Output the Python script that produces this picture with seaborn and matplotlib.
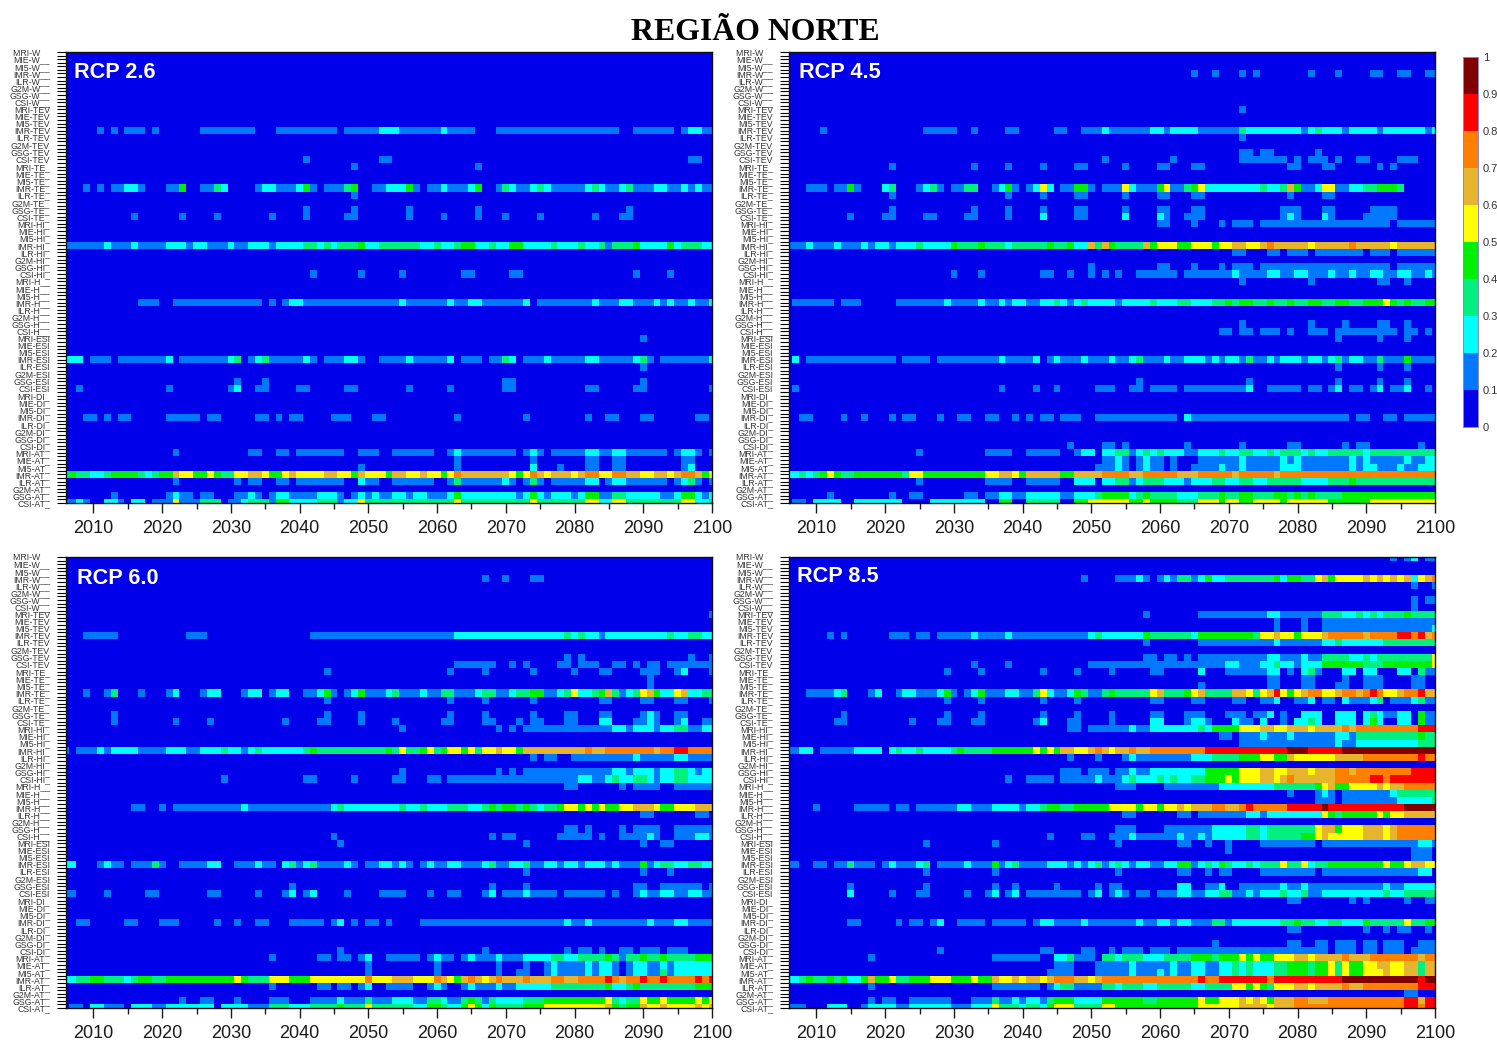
import matplotlib
matplotlib.use('Agg')
import matplotlib.pyplot as plt
from matplotlib.colors import ListedColormap
import numpy as np
import pandas as pd
import seaborn as sns

# Eixos: modelos x indices, anos de 2006 a 2100
modelos = ['MRI', 'MIE', 'MI5', 'IMR', 'ILR', 'G2M', 'GSG', 'CSI']
indices = ['W', 'TEV', 'TE', 'HI', 'H', 'ESI', 'DI', 'AT']
sufixo = {'W': '__', 'TEV': '', 'TE': '_', 'HI': '_', 'H': '__', 'ESI': '', 'DI': '_', 'AT': '_'}
anos = list(range(2006, 2101))
classes = [0.05, 0.15, 0.25, 0.35, 0.45, 0.55, 0.65, 0.75, 0.85, 0.95]
cores = ['#0000EA', '#0078FF', '#00FFFF', '#00F080', '#00F000',
         '#FFFF00', '#E6B42D', '#FF8000', '#FF0000', '#800000']
ticks_cbar = [0, 0.1, 0.2, 0.3, 0.4, 0.5, 0.6, 0.7, 0.8, 0.9, 1]
labels_cbar = ['0', '0.1', '0.2', '0.3', '0.4', '0.5', '0.6', '0.7', '0.8', '0.9', '1']

# Valores: "ano" ou "ano-ano:classe" (ano-2000, classe 1 se omitida)
rcp26 = {
    'IMR-TEV': '11 13 15-17 19 26-33 37-45 47-51 52-54:2 55-60 61:2 62-65 69-86 89-94 96 97-98:2 99-100',
    'CSI-TEV': '41 52-53 97-98',
    'MRI-TE': '48 66',
    'IMR-TE': '9 11 13-14 15-16:2 17 21-22 23:4 26-27 28:3 29:2 34 35-36:2 37-39 40:2 41:4 42 44-46 47:3 48:4 '
              '51-52 53-55:2 56:4 57 59-60 61:2 62-64 65:2 66:4 69 70:3 71:2 72-73 74:2 75:3 76:2 77-81 82:2 83:3 '
              '84:2 85-86 87:2 88:3 89-91 92-93:2 94-95 96:2 97 98:2 99-100',
    'ILR-TE': '48',
    'GSG-TE': '41 48 56 66 88',
    'CSI-TE': '16 23 28 36 41 47-48 56 61 66 70 75 83 87-88',
    'IMR-HI': '6-11 12:2 13-15 16:2 17-20 21-23:2 24 25-26:2 27-29 30:2 31-32 33-35:2 36 37-40:2 41-42:3 43:2 44:3 '
              '45:2 46-48:3 49:4 50-51:2 52-57:3 58-59:2 60:3 61-62:2 63:3 64-65:4 66-67:2 68:3 69-70:2 71-72:4 '
              '73-76:2 77:3 78-80:2 81:3 82-83:2 84:3 85 86:3 87-88:3 89:4 90-93:2 94:4 95:2 96-98:3 99-100:2',
    'CSI-HI': '42 49 55 64-65 71-72 89 94',
    'IMR-H': '17-19 22-34 36 38 39-40:2 41-54 55:2 56-61 62:2 63-64 65-66:2 67-72 73:2 75-82 83:2 84-86 87-88:2 '
             '89-91 92:2 93 94:2 95-96 97:2 98-99 100:2',
    'MRI-ESI': '90',
    'IMR-ESI': '6-8:2 10-12 14-20 21:2 23-29 30:2 31:3 33 34:2 35:3 36-40 41:2 42 44-46 47-48:2 49 52-55 56:2 57-61 '
               '62:2 64-66 68-69 70:3 71:2 73-75 76:2 77-81 82-83:2 84-88 89:2 90:3 91 93-99 100:2',
    'ILR-ESI': '90',
    'GSG-ESI': '31 35 70-71 90',
    'CSI-ESI': '8 21 30 31:2 34-35 40-41 47-48 56 62 70-71 82-83 89-90 100',
    'IMR-DI': '9-10 12 14-15 21-25 27-28 34-35 37 39-40 45-47 51-52 63 73 82 85-86 90-91 98-99',
    'MRI-AT': '22 33-34 37-38 40-46 49-51 54-59 62 63:2 64-71 73 74:2 75 77-81 82-83:2 84-85 86-87:2 88-93 95 '
              '96-97:2 98 100',
    'MIE-AT': '63 74 82-83 86-87 96-97',
    'MI5-AT': '49 63 74:2 78 82-83 86-87 96 97:2',
    'IMR-AT': '6:3 7:4 8-9:3 10-11:2 12:3 13-16:4 17:3 18:2 19:3 20-21:4 22:6 23-24:5 25-26:4 27:5 28:4 29-30:3 '
              '31-32:5 33-34:6 35:5 36-37:4 38:5 39:6 40-43:5 44-45:6 46-47:5 48:4 49:6 50-52:5 53:4 54-55:6 '
              '56-57:5 58:6 59-60:5 61:4 62:5 63:7 64-70:6 71:5 72:4 73:5 74:7 75:6 76:5 77-79:6 80:5 81:6 82-83:7 '
              '84-85:5 86-87:7 88-89:6 90-91:5 92-93:6 94:5 95:6 96-97:7 98:6 99:4 100:5',
    'ILR-AT': '22 31 33-34 37-38 40-46 49:2 50-51 54-59 62 63:3 64-69 70:2 71 73 74:3 75 77-81 82-83:2 85 86-87:2 '
              '88-93 95 96:2 97:3 98 100',
    'GSG-AT': '13 21 22:2 23-24 26-27 31-32 33:2 34 36 37-38:2 39-42 43-45:2 46 48 49:2 50 51:2 52-53 54-55:2 56 '
              '57-58:2 59-61 62:2 63:4 64-71:2 72 73:2 74:4 75:2 76 77-79:2 80 81:2 82-83:4 84-85 86-87:3 88-92:2 '
              '93-94 95:2 96-97:4 98:2 99 100:2',
    'CSI-AT': '6-7 8:2 9 12-13:2 14 16-17:2 19-21 22:5 23-25 26-28:3 30-31 32:2 33-35:3 36 37-38:4 39-42:2 43-45:3 '
              '46 47-48:2 49:5 50-62:3 63:5 64-73:3 74:5 75-81:3 82-83:5 84-85:2 86-87:5 88-95:3 96-97:5 98-99:2 100:3',
}

rcp45 = {
    'IMR-W': '65 68 72 74 82 86 91-92 95-96 99-100',
    'MRI-TEV': '72',
    'IMR-TEV': '11 26-30 33 38-39 45-46 49-51 52:2 53-58 59-60:2 61 62-65:2 66-71 72:3 73-80:2 81 82:2 83:3 84-86:2 '
               '87 88-91:2 92 93-98:2 99 100:2',
    'ILR-TEV': '72',
    'GSG-TEV': '72-73 75-76 83',
    'CSI-TEV': '52 62 72-78 80 82-84 86 89-90 95-97',
    'MRI-TE': '21 33 38 43 48-49 55 60-61 65-66 79-80 84-85 92 94',
    'IMR-TE': '9-11 13-14 15:4 16 20:2 21:3 25 26:2 27:3 28 30-31 32-33:3 36 37:2 38:4 39 41 42:2 43:5 44:2 46-47 '
              '48-49:4 50 52-54 55:5 56:2 57-59 60:4 61:5 62-63 64:3 65:4 66:5 67-74:2 75:3 76-77:2 78:3 79:6 80:4 '
              '81-82 83:2 84-85:5 86-87 88-89:2 90-91:3 92-94:4 95:3',
    'ILR-TE': '21 38 43 48-49 55 60-61 65-66 79 84-85',
    'GSG-TE': '21 33 38 43 48-49 55 60-61 65-66 78-80 84-85 91-94',
    'CSI-TE': '15 20-21 26-27 32-33 38 43:2 48-49 55:2 60:2 61 64-66 78 79:2 80 84:2 85 90-94',
    'MRI-HI': '60-61 65 69 71-73 75-93 95-100',
    'IMR-HI': '6-8 9:2 10-12 13:2 14-16 17:2 18 19-20:2 21 22-24:2 25:3 26-29:2 30:4 31-33:3 34:4 35-37:3 38:2 39-43:3 '
              '44:4 45-46:3 47:4 48-49:2 50:6 51:3 52:6 53:4 54:3 55-57:3 58:6 59:4 60-62:5 63-64:4 65-67:5 68:4 '
              '69-70:5 71-72:6 73-74:5 75:6 76:7 77-81:6 82:5 83-87:6 88:7 89-93:6 94:5 95-100:6',
    'ILR-HI': '71-72 76-77 79-81 83-89 91-93 95-100',
    'GSG-HI': '50 60-61 65 69 71-73 75-93 95-100',
    'CSI-HI': '30 34 43-44 47 50 52 54 57-62 64-70 71:2 72-75 76-77:2 78-79 80-81:2 82-84 85:2 86-87 88:2 89-90 '
              '91-92:2 93-94 95-96:2 97-98 99:2 100',
    'MRI-H': '72 82 92-93 96',
    'IMR-H': '7-12 14-16 22-28 29:2 30-33 34:2 35-36 37:2 38 39-40:2 41-42 43-44:2 45:3 46:2 47 48:2 49:3 50-53:2 54 '
             '55-58:2 59:3 60-62:2 63-64:3 65-67:2 68-69:3 70:4 71:3 72-73:4 74-75:3 76:4 77-78:3 79:4 80-81:3 '
             '82-83:4 84-85:3 86-87:4 88-89:3 90-92:4 93:5 94:4 95:3 96:4 97-98:3 99-100:4',
    'GSG-H': '72 82 87 92-93 96',
    'CSI-H': '69-70 72-73 75-77 79 82-84 86-94 96-97 99',
    'MRI-ESI': '86 92 96',
    'IMR-ESI': '7:2 9-21 23-26 28-36 37:2 38-41 42:2 44 45:2 46-48 49:2 50-52 53:2 54-55 56:2 57:3 58-60 61:2 62-63 '
               '64-66:2 67 68:2 69 70-71:2 72 73:3 74-75 76:2 77 78-80:2 81 82-83:2 84 85:2 86:3 87 88-89:2 90-91 92:3 '
               '93-95 96:4 97-100',
    'ILR-ESI': '86 92 96',
    'GSG-ESI': '57 73 86 92 96',
    'CSI-ESI': '7 37 42 45 51-53 56-57 59-62 64-72 73:2 76-80 82-83 85 86:2 88-89 91 92:2 94-95 96:2 99',
    'IMR-DI': '8-9 14 17 21 23-24 28 31-32 35-36 39 41 43-44 46-48 51-62 64:2 65-87 89-90 93-94 96-100',
    'CSI-DI': '47 52-53 55 64 72 79-80 87 89-90 98',
    'MRI-AT': '25 35-38 41-45 48 49-50:2 52-53:2 54-55:3 56 57:2 58:3 59:2 60:3 61-63:2 64-65 66-68:2 69:3 70-71:2 '
              '72-73:3 74-75:2 76:3 77:2 78-80:3 81:2 82:3 83-84:2 85-89:3 90:2 91-100:3',
    'MIE-AT': '52-53 54:2 55 57 58:2 59-60 62 66-71 72:2 73-77 78:2 79 80:2 81-87 88:2 89 90:2 91-95 96:2 97-98 99-100:2',
    'MI5-AT': '51-53 54:2 55 57 58:2 59-60 62 65-68 69:2 70-71 72:2 73-77 78-80:2 81-87 88:2 89 90-91:2 92-94 95:2 '
              '96-97 98-100:2',
    'IMR-AT': '6-7:2 8:3 9:2 10:3 11:4 12:5 13:4 14-15:3 16-22:4 23:3 24-25:5 26-34:4 35-36:5 37-38:6 39:5 40:4 41-45:6 '
              '46-47:4 48-51:6 52-55:7 56-57:6 58-62:7 63-65:6 66-70:7 71:6 72-76:7 77:6 78-100:7',
    'ILR-AT': '25 35-38 41-45 48-50:2 52-53:2 54-55:3 56 57:2 58-60:3 61-63:2 64 65-67:2 68-69:3 70-71:2 72-73:3 '
              '74-75:2 76-80:3 81-84:2 85-87:3 88:4 89-100:3',
    'GSG-AT': '12 21 24-25 32-33 35-36 37-38:2 39-40 41-45:2 46-47 48-50:2 51:3 52-55:4 56:2 57:3 58:4 59-62:3 63-65:2 '
              '66-68:3 69:4 70-71:3 72-73:4 74-76:3 77-78:4 79:3 80:4 81:3 82:4 83-86:3 87-100:4',
    'CSI-AT': '7-8 10-13:2 16-22:2 27-34:2 37-38:4 41-45:3 48-49:4 50-53:5 54-55:5 56:4 57:4 58:5 59-62:4 63-65:3 '
              '66-100:5 69:4 72-73:4 78:4 85-90:4',
}

rcp60 = {
    'IMR-W': '67 70 74-75',
    'MRI-TEV': '100',
    'IMR-TEV': '9-13 24-26 42-62 63-78:2 79:3 80:2 81:3 82-83:2 84 85-93:2 94:3 95-96:2 97-98:3 99-100:2',
    'GSG-TEV': '79 81 97 100',
    'CSI-TEV': '63-68 71 73 78-79 81-83 86-87 89 91-92 94-100',
    'MRI-TE': '44 62 67 74 80 84-85 90-92 95 96:2 100',
    'MIE-TE': '91',
    'MI5-TE': '91',
    'IMR-TE': '9 12 13:3 17 21 22:2 26 27-28:2 32 33-34:2 36 37-38:2 41-42 43:2 44:4 45 47 48:2 49:4 50-52 53:2 54:3 '
              '55-57 58:2 59-60 61-62:3 63-65 66:2 67-68:3 69-70 71:2 72-73:3 74-75:4 76-77 78:2 79:3 80:5 81-82:2 '
              '83:3 84:4 85:6 86:3 87 88:2 89:3 90:5 91:6 92:4 93-94:2 95:5 96:6 97-98:2 99-100:3',
    'ILR-TE': '44 62 67 74 84-85 90-91 95-96 100',
    'GSG-TE': '13 44 49 62 67 74 79-80 84-85 90 91:2 92 95-96',
    'CSI-TE': '13 22 27 38 43-44 49 54 61-62 67-68 72 74-75 79-80 84-85:2 89 90 91:2 92 95 96:2 99-100',
    'MRI-HI': '55 69 71 73-85 86-87:2 88 89-91:2 92 93-94:2 95-96:3 97-98 99-100:2',
    'IMR-HI': '6 8-10 11:2 12 13-16:2 17-20 21-23:2 24-25 26-28:2 29:3 30-31:2 32 33:2 34:3 35-40:2 41:3 42:4 43-52:3 '
              '53:4 54:3 55:5 56-57:3 58:4 59:5 60:3 61:4 62-63:5 64:4 65:5 66:3 67-68:5 69:6 70-71:5 72:4 73-81:6 '
              '82:7 83-84:6 85-91:7 92:6 93-94:7 95-96:8 97-100:7',
    'ILR-HI': '74 76-77 80-88 89:2 90-94 95-96:2 97-100',
    'GSG-HI': '55 69 71 73-85 86-87:2 88 89-91:2 92 93-94:2 95-96:3 97:2 98 99-100:2',
    'CSI-HI': '29 41-42 48 54-55 59-60 62-80 81-82:2 83-84 85:2 86:3 87-88:2 89-90:3 91:2 92 93-94:2 95-96:3 97-100:2',
    'MRI-H': '79-80 87 89-92 95-100',
    'IMR-H': '16-17 20 22-31 32:2 33-44 45:2 46:3 47-54:2 55:3 56-57:2 58:3 59-61:2 62-64:3 65-66:2 67:3 68:4 69:3 '
             '70-71:4 72:3 73:4 74:3 75:2 76-77:3 78:4 79-80:5 81:4 82:5 83:4 84:5 85-86:4 87-88:5 89-91:6 92:5 93-94:4 '
             '95-97:5 98-100:6',
    'ILR-H': '90-91 98-99',
    'GSG-H': '79-80 82 87 89-92 95-100',
    'CSI-H': '45 68 70-71 78-82 84 87-90 91:2 92 95-97 98-99:2 100',
    'MRI-ESI': '46 73 90 93-94',
    'IMR-ESI': '6-7:2 11 12:2 13-14 16-18 19:3 20 23-26 27-28:2 31-33 34:2 35-36 38:2 39:3 40 41:2 42:3 43-46 47:2 48 '
               '50-51 52-53:2 54 55:2 56 58 59:2 60-61 62-63:2 64-66 67:2 68:3 69-70 71-72:2 73:3 74-75 76-77:2 78 '
               '79-80:2 81 82-84:2 85 86:2 87-89 90:4 91 92:2 93-94:3 95-96:2 97-98:3 99-100:2',
    'ILR-ESI': '73 90 94',
    'GSG-ESI': '39 68 73 89-90 93-98 100',
    'CSI-ESI': '6-7 12 18-19 27-28 34 38 39:2 41 42:2 47 52-55 59 62-63 67 68:2 70-72 73:2 74-77 79-84 86 89 90:2 91-92 '
               '93-94:2 95-96 97-98:2 99-100',
    'IMR-DI': '8-9 15-16 20-22 28 31 34-35 39-43 45 46:2 48 50-51 53 58-78 79:2 80-81 82:2 83-90 91:2 92-94 95-96:2 97-100',
    'CSI-DI': '46 67 79 81-82 84 87-88 90-92 94-96',
    'MRI-AT': '36 43-44 46-47 49 50:2 53-57 59 60:2 61-62 64 65:2 66-68 69:2 70-72 73-76:2 77-78:3 79-80:2 81-84:3 85:4 '
              '86:3 87 88-89:3 90:4 91-92:3 93:4 94-97:3 98-100:4',
    'MIE-AT': '50 60 69 73 76 77:2 78-81 82:2 83 84-85:2 86 88 89-90:2 91-92 93:2 94 95-100:2',
    'MI5-AT': '50 60 69 72-73 76 77:2 78-81 82:2 83 84-85:2 86 88 89-90:2 91-92 93:3 94 95-100:2',
    'IMR-AT': '6-7:2 8-9:3 10-11:4 12-14:3 15:2 16:3 17-18:4 19-20:3 21-30:4 31:5 32:4 33-35:3 36-38:5 39-41:4 42-49:5 '
              '50:7 51-53:5 54-56:6 57-59:5 60:7 61:6 62:5 63:4 64:6 65:7 66:6 67:5 68:6 69:7 70-72:6 73:7 74-76:6 '
              '77-78:7 79-80:6 81-84:7 85:8 86:7 87:6 88-89:7 90:8 91-92:7 93:8 94-97:7 98:8 99:7 100:8',
    'ILR-AT': '36 43-44 46-47 49 50:2 53-56 59 60:2 61 64 65:2 66-68 69:2 70-71 72-76:2 77-84:3 85:4 86-87:2 88:3 89:4 '
              '90-97:3 98-100:4',
    'GSG-AT': '23 26-27 31 36-38 42-45 46:2 47-49 50:3 51-53 54-56:2 57-58 59-60:3 61:2 62-63 64:3 65:4 66:3 67 68:3 '
              '69-72:2 73-75:3 76-84:4 85:5 86:3 87:2 88-89:3 90:5 91-92:4 93:5 94-97:4 98:5 99:4 100:5',
    'CSI-AT': '7-8 10-11:2 12-14 16-18:2 19-20 21-27:2 29-32:2 33-35 36-38:3 39-41:2 42-45:3 46:4 47-49:3 50:5 51-53:3 '
              '54-56:3 57-58:2 59-60:4 61:3 62-63:2 64:4 65:5 66:4 67:2 68:4 69-72:3 73-75:4 76-84:5 85:6 86:4 87:3 '
              '88-89:4 90:6 91-92:5 93:6 94-97:5 98:6 99:5 100:6',
}

rcp85 = {
    'MRI-W': '94 96 97:2 99-100',
    'IMR-W': '49 54-56 57:2 58 60 61:2 62 63-64:3 65 66:2 67:4 68-69:2 70-76:3 77:4 78:2 79-80:4 81-82:3 83:5 84:6 85:4 '
             '86-89:5 90:6 91:5 92:6 93:5 94:6 95:5 96:6 97:2 98:5 99:6 100:7',
    'ILR-W': '97 100',
    'GSG-W': '97 99-100',
    'CSI-W': '97',
    'MRI-TEV': '58 66-75 76-77:2 78-83 84-86:3 87-88:2 89:3 90:2 91:3 92:2 93-95:3 96:4 97-100:3',
    'MIE-TEV': '77 81 84-100',
    'MI5-TEV': '77 81 84-99 100:2',
    'IMR-TEV': '12 14 21-23 25-26 28-32 33:2 34-37 38:2 39-49 50:2 51:3 52-57:2 58:4 59-64:3 65:2 66-73:4 74:3 75-76:5 '
               '77:6 78-79:5 80:4 81-83:5 84:6 85-89:7 90:6 91-94:7 95-96:8 97:7 98:8 99:6 100:7',
    'ILR-TEV': '58 66-76 77:2 78-83 84-85:2 86:3 87-92:2 93-100:3',
    'GSG-TEV': '58-59 61-62 64 66-75 76-77:2 78-80 81:2 82-83 84-87:3 88-89:2 90:3 91:2 92-99:3 100:5',
    'CSI-TEV': '33 38 50-69 70-71:2 72-74 75-76:2 77:3 78-79:2 80 81-83:2 84-89:4 90-92:3 93-99:4 100:5',
    'MRI-TE': '29 34 43 48 53 59-60 66:2 70-75 76-77:2 79 81:2 82:3 83 87-88:2 90-91:2 95-96:2 98:3 99-100',
    'MIE-TE': '76-77 81-82 87 90-92 97-98',
    'MI5-TE': '66 76-77 81-82 86-87 90-92 97-98',
    'IMR-TE': '9-12 13:2 14:3 18 19:2 22 23-24:2 25-27 28:2 29:4 30 32 33:2 34:4 35-37 38-39:2 40-41 42:3 43:5 44:2 '
              '45-46 47:2 48:4 49:3 50-51 52:3 53:4 54-58:3 59:5 60:6 61-63:3 64:4 65:5 66:6 67-70:3 71-72:6 73:5 74:3 '
              '75:5 76:6 77:8 78:5 79:4 80:5 81:6 82-83:7 84-85:5 86:6 87-88:7 89:6 90:7 91:8 92:7 93-94:5 95:6 96-97:7 '
              '98:8 99-100:6',
    'ILR-TE': '29 34 43 48 59-60 65-66 71-72 75-76 77:2 80-81 82:2 84-85 87:2 88-90 91:2 92:3 94-96 97:2 98:3 99-100',
    'GSG-TE': '14 29 34 43 48 53 59-60 64-66 70-72 74-75 76:2 78 81-83:2 86-88:2 90:2 91:3 92:2 93-94 95-96:2 98:4 99-100',
    'CSI-TE': '13-14 24 28-29 33-34 42 43:2 47-48 53 59-60:2 64 65-66:2 67 71:2 72-73 75:2 78 80-81:2 82:3 83:2 86-88:2 '
              '90:2 91:4 92:2 95-96:2 98:4 99-100',
    'MRI-HI': '47-48 50-53 54-55 56:2 57-58 59-67:2 66:3 68-71:4 72-74:5 75-76:6 77-78:5 79-81:6 82:5 83-86:6 87:7 88:6 '
              '89-97:7 98-100:8',
    'MIE-HI': '69-70 72-74 75:2 76-78 79:2 80-85 86-87:2 88 89-97:3 98:4 99-100:3',
    'MI5-HI': '72-85 86:2 87-88 89-97:2 98-100:3',
    'IMR-HI': '6-7 8-9:2 11-15 16-19:2 21:2 22:3 23-24:2 25:3 26-29:2 30:3 31:4 32-35:3 36-41:4 42:5 43:4 44:5 45:4 '
              '46-47:6 48-49:5 50:6 51:7 52:6 53-54:5 54-55:6 56:7 57-58:6 59-66:7 67-78:8 79-81:9 82-86:8 87-100:9',
    'ILR-HI': '47 51 55 56:2 57-64 65-67:2 68-71:3 72-74:4 75-76:5 77-78:4 79:6 80-85:5 86-89:6 90-97:7 98:8 99-100:7',
    'GSG-HI': '46-48 50-52 54-55 56:2 57-58 59-66:2 67-71:4 72-74:5 75-76:6 77-78:5 79-81:6 82:5 83-85:6 86-87:7 88:6 '
              '89-96:7 97-100:8',
    'CSI-HI': '38 41-44 46-50 51:2 52-54 55:2 56:3 57-59:2 60:3 61:2 62:3 63-64:2 65-66:3 67-69:4 70:5 71:4 72-74:5 '
              '75-76:6 77:5 78:6 79:7 80-85:6 86-90:7 91-92:8 93:7 94-100:8',
    'MRI-H': '54-56 61-68 69-71:2 72-76:2 77-82:3 83:4 84:5 85:6 86-87:4 88-91:5 92:6 93:5 94-95:6 96-100:7',
    'MIE-H': '79 83 84:2 85 87-93 94:2 95-100:3',
    'MI5-H': '83-85 87-94 95-99:2 100:3',
    'IMR-H': '10 16-20 22-23 25-30 31-32:2 33-35 36-39:2 40 41-42:2 43:3 44-45:4 46-47:3 48-52:4 53-56:5 57:4 58-59:5 '
             '60:4 61-62:5 63:6 64:5 65-67:6 68-69:7 70-71:6 72:7 73:8 74-78:7 79-83:8 84:9 85-95:8 96-100:9',
    'ILR-H': '55-56 63-64 66-72 73-74:2 75 76-83:2 84:5 85:4 86:3 87-91:4 92:5 93:4 94-95:5 96-100:6',
    'GSG-H': '54-56 61-67 68-72:2 73-74:3 75:2 76-82:3 83:5 84-85:6 86:4 87-89:5 90-92:6 93:5 94:6 95-100:7',
    'CSI-H': '44 49-50 53-55 56:2 57-62 63:2 64-65 66:2 67 68-72:2 73-74:3 75:2 76-80:3 81-82:4 83:5 84:6 85-89:5 '
             '90-92:6 93:5 94:6 95-100:7',
    'MRI-ESI': '26 36 54 63-64 67 70 75-82 84-97 98-99:2 100',
    'MIE-ESI': '70 97-99',
    'MI5-ESI': '97-99',
    'IMR-ESI': '6-7 10-11 13-14 15:3 16-18 20 21:2 22-24 25:2 26:3 28-31 32:2 33-35 36:4 37 38:2 39:3 40-43 44-46:2 47 '
               '48:2 49 50:2 51:3 52 53:2 54:3 55:2 56 57-58:2 59-60 61-62:2 63-64:4 65 66:2 67:3 68:2 69:4 70:3 71-72:2 '
               '73:3 74:2 75-77:3 78:5 79-80:3 81:5 82:2 83-84:3 85-92:4 93:5 94-95:4 96:5 97-98:6 99-100:5',
    'ILR-ESI': '26 36 54 63-64 67 69-70 75-82 84-97 98-99:2',
    'GSG-ESI': '15 26 36 39 45 51 53-54 63-64:2 67-68 69:2 72-77 78:2 79-80 81:2 82-92 93:2 94-95 96-100:2',
    'CSI-ESI': '15:2 21 25-26 32 35 36:2 38 39:2 41-48 50 51:2 53 54:2 55 57-58 60-62 63-64:2 65-66 67-68:2 69-70:3 '
               '71-72 73:2 74 75-77:2 78:3 79-80:2 81:3 82-83 84-92:2 93:3 94-95:2 96-100:3',
    'MRI-DI': '79-80 88 90 96 99-100',
    'IMR-DI': '15-16 22 24-25 27 28:2 31-34 36-40 42 43-44:2 45-48 49:2 50-56 57:2 58-59 60-61:2 62 63-64:2 65-67 '
              '68-69:3 70 71-77:2 78-79:3 80:4 81-82:3 83-84:2 85-86:3 87-89:2 90:4 91-95:3 96:5 97-98:3 99-100:4',
    'ILR-DI': '79-80 90 93 95-96 99',
    'GSG-DI': '68 79-80 83-84 86-88 90-91 93-95 98-100',
    'CSI-DI': '28 43-44 49-50 53 55-57 59-61 63-84 86-88 90-91 93-95 97-100',
    'MRI-AT': '18 36-37 38-42 45-46:2 47:3 48-50 52-53:3 54:2 55-57:3 58-60:2 61-64:3 65-67:4 68:3 69-71:4 72:5 73:4 '
              '74:5 75-76:4 77-79:5 80-81:6 82:5 83-86:6 87:7 88-90:6 91-97:7 98:6 99-100:7',
    'MIE-AT': '45-47 51-55 56:2 57-61 62:2 63-64 65-66:2 67-68 69-70:2 71:3 72:2 73:3 74-76:2 77-78:3 79-81:4 82:3 '
              '83-84:4 85:5 86:3 87:5 88-89:4 90-91:5 92-93:6 94-95:5 96-97:6 98:3 99-100:6',
    'MI5-AT': '44-47 51-55 56:2 57-59 60:2 61 62:2 63-64 65-66:2 67-68 69-70:2 71:3 72:2 73:3 74-76:2 77-78:3 79-81:4 '
              '82:3 83-84:4 85:5 86:3 87:5 88-89:4 90-92:5 93:6 94-95:5 96-97:6 98:3 99-100:6',
    'IMR-AT': '6-7:2 8:3 9:4 10-11:3 12:4 13:3 14:4 15-16:2 17:4 18:6 19-20:4 21:5 22-23:3 24-26:4 27-29:5 30-32:4 33:5 '
              '34-35:4 36:6 37-38:5 39:6 40:5 41-42:6 43:5 44:6 45-47:7 48-49:6 50:5 51:6 52-65:7 66:8 67-68:7 69-75:8 '
              '76:7 77-86:8 87-97:9 98:8 99-100:9',
    'ILR-AT': '18 36-37 38-42 44 45:2 46-47:3 48-51 52-53:3 54:2 55-57:3 58-59:2 60-64:3 65-66:2 67-70:3 71-72:5 73:4 '
              '74:5 75:4 76:3 77-79:5 80-81:6 82:5 83-86:6 87:7 88-89:6 90-97:7 98-100:8',
    'G2M-AT': '96-97',
    'GSG-AT': '18 20-21 24-29 33-35 36:3 37-38 39:2 40 41-42:2 43 44:3 45-47:4 48-51:2 52-53:4 54-57:4 58-59:3 60-65:4 '
              '66:5 67-68:4 69-71:5 72:6 73:5 74:6 75:5 76:4 77-79:6 80-81:7 82-84:6 85-95:7 96-97:8 98:6 99-100:8',
    'CSI-AT': '6-8 12-14:2 17 18-21:2 22-23 24-29:2 30-32 33-35:2 36:5 37-39:3 40:2 41-42:3 43:2 44:4 45-47:5 48-51:3 '
              '52-53:5 54-59:4 60-65:4 66-68:5 69-71:5 72-75:6 76:5 77-79:6 80-81:7 82-84:7 85-95:7 96-97:8 98:7 99-100:8',
}

paineis = [('RCP 2.6', rcp26), ('RCP 4.5', rcp45), ('RCP 6.0', rcp60), ('RCP 8.5', rcp85)]

# Posicao em pixels: esquerda, topo, x e y do rotulo
W, H = 1497, 1043
posicoes = [(66, 52, 74, 73), (789, 52, 799, 73), (66, 557, 77, 578), (789, 557, 797, 576)]
larg, alt = 646, 451


def monta_tabela(valores):
    linhas = [m + '-' + i for i in indices for m in modelos]
    tab = pd.DataFrame(classes[0], index=linhas, columns=anos)
    for nome, texto in valores.items():
        for trecho in texto.split():
            periodo, _, classe = trecho.partition(':')
            ini, _, fim = periodo.partition('-')
            fim = fim or ini
            tab.loc[nome, 2000 + int(ini):2000 + int(fim)] = classes[int(classe or 1)]
    return tab


sns.set_theme(style='ticks', font='Liberation Sans')
cmap = ListedColormap(cores)
fig = plt.figure(figsize=(W / 100, H / 100), dpi=100)
cax = fig.add_axes([1463 / W, 1 - 427 / H, 15 / W, 370 / H])

for n, (nome, valores) in enumerate(paineis):
    esq, topo, tx, ty = posicoes[n]
    ax = fig.add_axes([esq / W, 1 - (topo + alt) / H, larg / W, alt / H])
    tab = monta_tabela(valores)
    sns.heatmap(tab, ax=ax, cmap=cmap, vmin=0, vmax=1, cbar=n == 0, cbar_ax=cax if n == 0 else None,
                xticklabels=False, yticklabels=False, cbar_kws={'ticks': ticks_cbar})
    # Metade da primeira e da ultima celula fica fora do eixo
    ax.set_xlim(0.5, 94.5)
    ax.set_ylim(63.5, 0.5)
    ax.set_xlabel('')
    ax.set_ylabel('')
    dez = [a for a in anos if a % 10 == 0]
    ax.set_xticks([anos.index(a) + 0.5 for a in dez])
    ax.set_xticklabels([str(a) for a in dez], rotation=0)
    ax.set_xticks([anos.index(a) + 0.5 for a in anos if a % 5 == 0 and a % 10 != 0], minor=True)
    ax.set_yticks(np.arange(64) + 0.5)
    rotulos = [m + '-' + i + sufixo[i] for i in indices for m in modelos]
    # O primeiro rotulo nao mostra o traco, mas ocupa a mesma largura
    rotulos[0] = 'MRI-W' + '\u00a0' * 4
    ax.set_yticklabels(rotulos, rotation=0)
    ax.set_yticks(np.arange(1, 64), minor=True)
    ax.tick_params(axis='x', which='major', length=7.2, width=1, pad=5, labelsize=13, colors='#1a1a1a')
    ax.tick_params(axis='x', which='minor', length=4.3, width=1, colors='#1a1a1a')
    ax.tick_params(axis='y', which='both', length=6.5, width=0.8, color='black')
    ax.tick_params(axis='y', which='major', pad=5, labelsize=6.3, labelcolor='#333333')
    for lado in ax.spines.values():
        lado.set_visible(True)
        lado.set_linewidth(1)
        lado.set_color('#101010')
    fig.text(tx / W, 1 - ty / H, nome, color='white', fontsize=15.6, fontweight='bold', va='center', ha='left')

# Barra de cores
cax.set_yticklabels(labels_cbar)
cax.tick_params(axis='y', length=0, pad=3.6, labelsize=8, labelcolor='#333333')
for lado in cax.spines.values():
    lado.set_visible(True)
    lado.set_linewidth(0.6)
    lado.set_color('#8888cc')

fig.text(755 / W, 1 - 32 / H, 'REGIÃO NORTE', family='Liberation Serif', fontsize=22.9, fontweight='bold',
         color='black', ha='center', va='center')

fig.savefig('out.png', dpi=100)
